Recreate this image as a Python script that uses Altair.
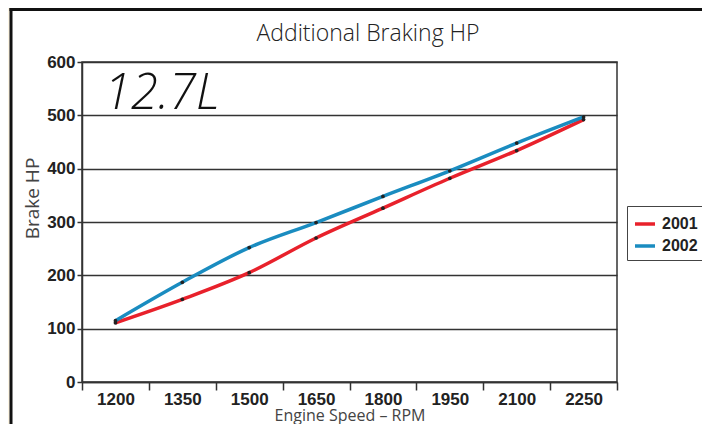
import altair as alt
import pandas as pd

rpm = ["1200", "1350", "1500", "1650", "1800", "1950", "2100", "2250"]
hp_2001 = [111, 155, 205, 270, 326, 382, 434, 492]
hp_2002 = [115, 187, 252, 299, 348, 396, 448, 497]
series = ["2001", "2002"]
colors = ["#e8212b", "#1a8cc0"]
y_ticks = [0, 100, 200, 300, 400, 500, 600]
chart_title = "Additional Braking HP"
engine_label = "12.7L"

df = pd.DataFrame({
    "rpm": rpm * 2,
    "hp": hp_2001 + hp_2002,
    "year": [series[0]] * len(rpm) + [series[1]] * len(rpm),
})
one = pd.DataFrame({"k": [0]})

W, H = 535, 320
LBL = "Liberation Sans"
TTL = "Open Sans"

x_enc = alt.X(
    "rpm:O", sort=rpm,
    scale=alt.Scale(type="band", paddingInner=0, paddingOuter=0),
    axis=alt.Axis(title="Engine Speed – RPM", labelAngle=0, tickBand="extent",
                  grid=False, tickSize=8, labelPadding=1, titlePadding=0,
                  titleFontSize=16),
)
y_enc = alt.Y(
    "hp:Q", scale=alt.Scale(domain=[0, 600], nice=False),
    axis=alt.Axis(title="Brake HP", values=y_ticks, grid=True, tickSize=5,
                  labelPadding=2, titleX=-50, titleY=136, titleAngle=-90,
                  titleAlign="center", titleBaseline="middle"),
)
color_enc = alt.Color(
    "year:N", scale=alt.Scale(domain=series, range=colors),
    legend=alt.Legend(title=None, orient="none", legendX=545, legendY=144,
                      symbolType="stroke", symbolStrokeWidth=3.5, symbolSize=400,
                      labelFontSize=16, labelFontWeight="bold", labelFont=LBL,
                      labelColor="#222", strokeColor="#444", fillColor="white",
                      padding=6, rowPadding=2, labelOffset=5),
)

base = alt.Chart(df)
lines = base.mark_line(interpolate="monotone", strokeWidth=3.5).encode(
    x=x_enc, y=y_enc, color=color_enc, detail="year:N")
points = base.mark_point(filled=True, size=14, color="#222", opacity=1).encode(
    x=x_enc, y=y_enc, detail="year:N")

title_txt = alt.Chart(pd.DataFrame({"t": [chart_title]})).mark_text(
    font=TTL, fontSize=23, fontWeight=300, color="#222", align="center", baseline="middle"
).encode(x=alt.value(286), y=alt.value(-28), text="t:N")

eng_txt = alt.Chart(pd.DataFrame({"t": [engine_label]})).mark_text(
    font=TTL, fontSize=49, fontStyle="italic", fontWeight=300, color="#111",
    align="left", baseline="middle"
).encode(x=alt.value(22), y=alt.value(32), text="t:N")

cream = alt.Chart(one).mark_rect(color="#fdf5e3").encode(
    x=alt.value(-74), x2=alt.value(-72.5), y=alt.value(-54), y2=alt.value(380))
left_border = alt.Chart(one).mark_rule(color="#111", strokeWidth=3).encode(
    x=alt.value(-71), y=alt.value(-54), y2=alt.value(380))
top_border = alt.Chart(one).mark_rule(color="#111", strokeWidth=3).encode(
    x=alt.value(-72.5), x2=alt.value(640), y=alt.value(-52.5))

chart = alt.layer(cream, left_border, top_border, lines, points, title_txt, eng_txt).properties(
    width=W, height=H,
    padding={"left": 74, "top": 54, "right": 85, "bottom": 42},
    autosize=alt.AutoSizeParams(type="none"),
    background="white",
).configure_view(
    stroke="#333", strokeWidth=1.5
).configure_axis(
    domainColor="#333", domainWidth=1.5, tickColor="#333", tickWidth=1.5,
    gridColor="#333", gridWidth=1.5, gridOpacity=1,
    labelFont=LBL, labelFontSize=17, labelFontWeight="bold", labelColor="#222",
    titleFont=TTL, titleFontSize=19, titleFontWeight="normal", titleColor="#444",
)

chart.save("out.html", embed_options={"renderer": "svg", "actions": False})
